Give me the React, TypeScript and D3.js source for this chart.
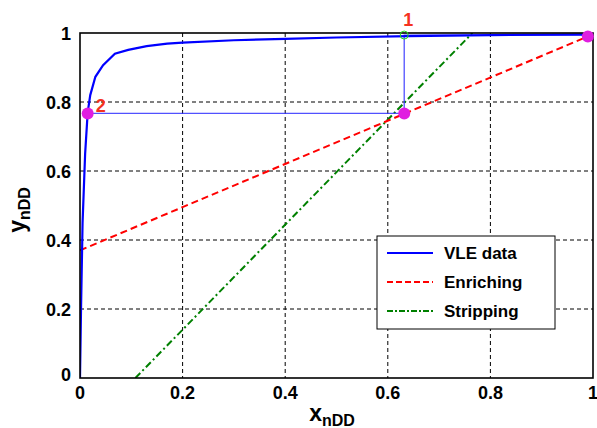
import React from "react";
import * as d3 from "d3";

const vleX = [0, 0.002, 0.005, 0.01, 0.015, 0.02, 0.03, 0.045, 0.068, 0.094, 0.13, 0.17, 0.2, 0.3, 0.4, 0.5, 0.64, 0.8, 1.0];
const vleY = [0, 0.2, 0.45, 0.65, 0.77, 0.82, 0.873, 0.907, 0.94, 0.951, 0.962, 0.969, 0.972, 0.979, 0.983, 0.987, 0.991, 0.994, 0.996];

const enrichX = [0, 0.99];
const enrichY = [0.37, 0.99];

const stripX = [0.108, 0.765];
const stripY = [0, 1];

const stepX = [0.99, 0.632, 0.632, 0.015];
const stepY = [0.994, 0.994, 0.767, 0.767];

const pointX = [0.632, 0.015, 0.99];
const pointY = [0.767, 0.767, 0.99];

const ticks = [0, 0.2, 0.4, 0.6, 0.8, 1];
const tickLabels = ["0", "0.2", "0.4", "0.6", "0.8", "1"];
const legendLabels = ["VLE data", "Enriching", "Stripping"];

const W = 597, H = 428;
const L = 80, R = 593, T = 33, B = 378;

export default function App() {
  const x = d3.scaleLinear().domain([0, 1]).range([L, R]);
  const y = d3.scaleLinear().domain([0, 1]).range([B, T]);
  const line = d3.line<[number, number]>().x(d => x(d[0])).y(d => y(d[1]));
  const vle = line(vleX.map((v, i) => [v, vleY[i]] as [number, number]))!;
  const en = line(enrichX.map((v, i) => [v, enrichY[i]] as [number, number]))!;
  const st = line(stripX.map((v, i) => [v, stripY[i]] as [number, number]))!;
  const steps = line(stepX.map((v, i) => [v, stepY[i]] as [number, number]))!;
  const font = "'Liberation Sans', Arial, sans-serif";
  const labColor = "#f5321e";
  const legX = 377, legY = 236, legW = 178, legH = 93;
  const legColors = ["#0000ff", "#ff0000", "#008000"];
  const legDash = [undefined, "6,3", "6,2,2,2"];
  return (
    <svg width={W} height={H} style={{ position: "absolute", left: 0, top: 0, background: "#fff" }} fontFamily={font}>
      <defs>
        <clipPath id="plot"><rect x={L} y={T} width={R - L} height={B - T} /></clipPath>
      </defs>
      {/* grid */}
      {ticks.slice(1, -1).map((t, i) => (
        <g key={i}>
          <line x1={x(t)} x2={x(t)} y1={T} y2={B} stroke="#000" strokeWidth={1} strokeDasharray="4,3" />
          <line x1={L} x2={R} y1={y(t)} y2={y(t)} stroke="#000" strokeWidth={1} strokeDasharray="4,3" />
        </g>
      ))}
      <g clipPath="url(#plot)">
        <path d={st} fill="none" stroke="#008000" strokeWidth={2} strokeDasharray="7,3,2,3" />
        <path d={en} fill="none" stroke="#ff0000" strokeWidth={2} strokeDasharray="7,4" />
        <path d={steps} fill="none" stroke="#3333ff" strokeWidth={1.3} strokeOpacity={0.85} />
        <path d={vle} fill="none" stroke="#0000ff" strokeWidth={2.2} />
      </g>
      {/* axes box */}
      <rect x={L} y={T} width={R - L} height={B - T} fill="none" stroke="#000" strokeWidth={1.6} />
      {/* points */}
      {pointX.map((p, i) => (
        <circle key={i} cx={x(p)} cy={y(pointY[i])} r={6} fill="#e01ee0" />
      ))}
      <circle cx={x(0.632)} cy={y(0.994)} r={4} fill="none" stroke="#22dd22" strokeWidth={1} />
      <text x={x(0.632) + 4} y={26} fontSize={18} fontWeight="bold" fill={labColor} textAnchor="middle">1</text>
      <text x={x(0.015) + 13} y={112} fontSize={18} fontWeight="bold" fill={labColor} textAnchor="middle">2</text>
      {/* tick labels */}
      {ticks.map((t, i) => (
        <text key={"x" + i} x={x(t)} y={B + 21} fontSize={18} fontWeight="bold" textAnchor="middle">{tickLabels[i]}</text>
      ))}
      {ticks.map((t, i) => (
        <text key={"y" + i} x={L - 9} y={y(t) + (i === 0 ? 3 : 7)} fontSize={18} fontWeight="bold" textAnchor="end">{tickLabels[i]}</text>
      ))}
      {/* axis labels */}
      <text x={332} y={421} fontSize={23} fontWeight="bold" textAnchor="middle">
        x<tspan fontSize={16} dy={5}>nDD</tspan>
      </text>
      <text transform={`translate(25,210) rotate(-90)`} fontSize={23} fontWeight="bold" textAnchor="middle">
        y<tspan fontSize={16} dy={5}>nDD</tspan>
      </text>
      {/* legend */}
      <rect x={legX} y={legY} width={legW} height={legH} fill="#fff" stroke="#000" strokeWidth={1} />
      {legendLabels.map((lab, i) => (
        <g key={lab}>
          <line x1={387} x2={433} y1={253 + i * 29} y2={253 + i * 29} stroke={legColors[i]} strokeWidth={2} strokeDasharray={legDash[i]} />
          <text x={444} y={259 + i * 29} fontSize={17} fontWeight="bold">{lab}</text>
        </g>
      ))}
    </svg>
  );
}
